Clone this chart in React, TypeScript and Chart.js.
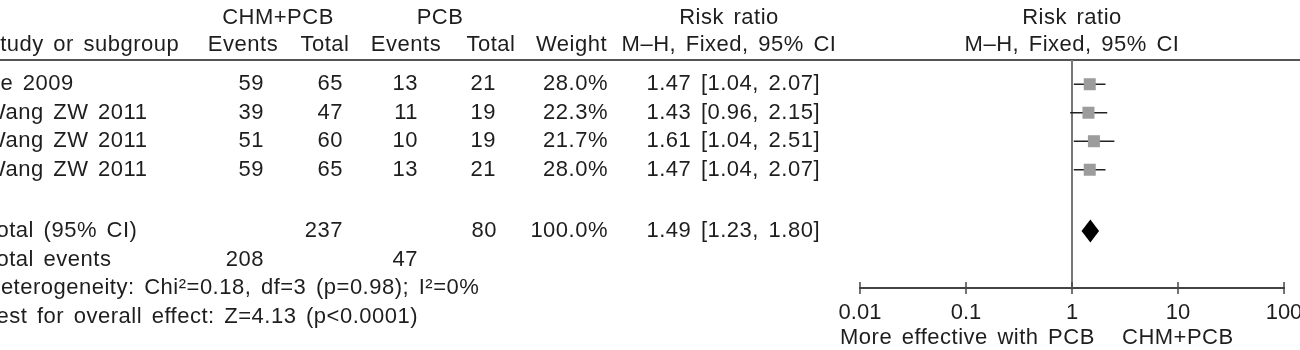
import React, { useEffect, useRef } from "react";
import { Chart, registerables } from "chart.js";

Chart.register(...registerables);

// ---- data ----
const studyLabels = ["e 2009", "Wang ZW 2011", "Wang ZW 2011", "Wang ZW 2011"];
const chmEvents = [59, 39, 51, 59];
const chmTotals = [65, 47, 60, 65];
const pcbEvents = [13, 11, 10, 13];
const pcbTotals = [21, 19, 19, 21];
const weights = [28.0, 22.3, 21.7, 28.0];
const riskRatios = [1.47, 1.43, 1.61, 1.47];
const ciLow = [1.04, 0.96, 1.04, 1.04];
const ciHigh = [2.07, 2.15, 2.51, 2.07];

const totalLabel = "Total (95% CI)";
const totalChm = 237;
const totalPcb = 80;
const totalWeight = 100.0;
const pooledRR = 1.49;
const pooledLow = 1.23;
const pooledHigh = 1.8;
const totalEventsChm = 208;
const totalEventsPcb = 47;
const heterogeneityText = "Heterogeneity: Chi²=0.18, df=3 (p=0.98); I²=0%";
const overallText = "Test for overall effect: Z=4.13 (p<0.0001)";

const tickValues = [0.01, 0.1, 1, 10, 100];
const tickLabels = ["0.01", "0.1", "1", "10", "100"];
const favoursLeft = "More effective with PCB";
const favoursRight = "CHM+PCB";

const FONT_FAMILY = "'Liberation Sans', Arial, sans-serif";
const TEXT = "#1e1e1e";

const rowY = (i: number) => 0.85 + i;
const TOTAL_Y = 6;

const fmt2 = (v: number) => v.toFixed(2);
const rrText = (r: number, l: number, h: number) => `${fmt2(r)} [${fmt2(l)}, ${fmt2(h)}]`;

const forestPlugin = {
  id: "forest",
  beforeDatasetsDraw(chart: any) {
    const { ctx, chartArea } = chart;
    const xs = chart.scales.x;
    ctx.save();
    // header rule
    ctx.strokeStyle = "#555";
    ctx.lineWidth = 2;
    ctx.beginPath();
    ctx.moveTo(0, chartArea.top);
    ctx.lineTo(chart.width, chartArea.top);
    ctx.stroke();
    // line of no effect
    const x1 = xs.getPixelForValue(1);
    ctx.strokeStyle = "#777";
    ctx.beginPath();
    ctx.moveTo(x1, chartArea.top);
    ctx.lineTo(x1, chartArea.bottom);
    ctx.stroke();
    // ticks crossing the axis
    ctx.strokeStyle = "#444";
    ctx.lineWidth = 1.5;
    tickValues.forEach((v) => {
      const px = xs.getPixelForValue(v);
      ctx.beginPath();
      ctx.moveTo(px, chartArea.bottom - 6);
      ctx.lineTo(px, chartArea.bottom + 6);
      ctx.stroke();
    });
    ctx.restore();
  },
  afterDatasetsDraw(chart: any) {
    const { ctx, chartArea } = chart;
    const xs = chart.scales.x;
    const ys = chart.scales.y;
    ctx.save();
    // pooled diamond
    const dy = ys.getPixelForValue(TOTAL_Y);
    const dl = xs.getPixelForValue(pooledLow);
    const dr = xs.getPixelForValue(pooledHigh);
    const dc = xs.getPixelForValue(pooledRR);
    ctx.fillStyle = "#000";
    ctx.beginPath();
    ctx.moveTo(dl, dy);
    ctx.lineTo(dc, dy - 11.5);
    ctx.lineTo(dr, dy);
    ctx.lineTo(dc, dy + 11.5);
    ctx.closePath();
    ctx.fill();

    // table text
    ctx.font = `22px ${FONT_FAMILY}`;
    (ctx as any).letterSpacing = "0.5px";
    (ctx as any).wordSpacing = "3px";
    ctx.fillStyle = TEXT;
    ctx.textBaseline = "middle";
    const t = (s: string, x: number, yv: number, align: CanvasTextAlign) => {
      ctx.textAlign = align;
      ctx.fillText(s, x, ys.getPixelForValue(yv));
    };
    const leftX = -15;
    const xOne = xs.getPixelForValue(1);
    const h1 = -1.47;
    const h2 = -0.52;
    t("CHM+PCB", 278, h1, "center");
    t("PCB", 440, h1, "center");
    t("Risk ratio", 729, h1, "center");
    t("Risk ratio", xOne, h1, "center");
    t("Study or subgroup", leftX, h2, "left");
    t("Events", 243, h2, "center");
    t("Total", 325, h2, "center");
    t("Events", 406, h2, "center");
    t("Total", 491, h2, "center");
    t("Weight", 607, h2, "right");
    t("M–H, Fixed, 95% CI", 729, h2, "center");
    t("M–H, Fixed, 95% CI", xOne, h2, "center");

    studyLabels.forEach((lab, i) => {
      const y = rowY(i);
      t(lab, /^[a-z]/.test(lab) ? 0.5 : leftX, y, "left");
      t(String(chmEvents[i]), 264, y, "right");
      t(String(chmTotals[i]), 343, y, "right");
      t(String(pcbEvents[i]), 418, y, "right");
      t(String(pcbTotals[i]), 496, y, "right");
      t(weights[i].toFixed(1) + "%", 608, y, "right");
      t(rrText(riskRatios[i], ciLow[i], ciHigh[i]), 820, y, "right");
    });

    t(totalLabel, leftX, TOTAL_Y, "left");
    t(String(totalChm), 343, TOTAL_Y, "right");
    t(String(totalPcb), 497, TOTAL_Y, "right");
    t(totalWeight.toFixed(1) + "%", 608, TOTAL_Y, "right");
    t(rrText(pooledRR, pooledLow, pooledHigh), 820, TOTAL_Y, "right");

    t("Total events", leftX, 7, "left");
    t(String(totalEventsChm), 264, 7, "right");
    t(String(totalEventsPcb), 418, 7, "right");
    t(heterogeneityText, leftX - 0.5, 8, "left");
    t(overallText, leftX, 9, "left");

    // favours labels
    ctx.textAlign = "left";
    ctx.fillText(favoursLeft, 840, chartArea.bottom + 50);
    ctx.fillText(favoursRight, 1122, chartArea.bottom + 50);
    ctx.restore();
  },
};

export default function App() {
  const ref = useRef<HTMLCanvasElement | null>(null);
  useEffect(() => {
    if (!ref.current) return;
    Chart.defaults.font.family = FONT_FAMILY;
    const squares = {
      data: riskRatios.map((v, i) => ({ x: v, y: rowY(i) })),
      pointStyle: "rect",
      pointRadius: 8.5,
      pointBackgroundColor: "#9c9c9c",
      pointBorderWidth: 0,
      showLine: false,
    };
    const ciSets = riskRatios.map((_, i) => ({
      data: [
        { x: ciLow[i], y: rowY(i) },
        { x: ciHigh[i], y: rowY(i) },
      ],
      showLine: true,
      borderColor: "#222",
      borderWidth: 1.5,
      pointRadius: 0,
    }));
    const chart = new Chart(ref.current, {
      type: "scatter",
      data: { datasets: [squares as any, ...ciSets] },
      options: {
        animation: false,
        responsive: false,
        events: [],
        layout: { padding: { left: 860, right: 16, top: 60, bottom: 0 } },
        plugins: { legend: { display: false }, tooltip: { enabled: false } },
        scales: {
          x: {
            type: "logarithmic",
            min: 0.01,
            max: 100,
            grid: { display: false, drawTicks: false },
            border: { display: true, color: "#444", width: 2 },
            ticks: {
              color: TEXT,
              padding: 12,
              font: { size: 22, family: FONT_FAMILY },
              maxRotation: 0,
              autoSkip: false,
              callback: (v: any) => {
                const idx = tickValues.indexOf(Number(v));
                return idx >= 0 ? tickLabels[idx] : "";
              },
            },
            afterBuildTicks: (s: any) => {
              s.ticks = tickValues.map((v) => ({ value: v }));
            },
            afterFit: (s: any) => {
              s.height = 62;
              s.paddingLeft = 0;
              s.paddingRight = 0;
            },
          },
          y: { type: "linear", min: 0, max: 8, reverse: true, display: false },
        },
      },
      plugins: [forestPlugin],
    } as any);
    return () => chart.destroy();
  }, []);
  return (
    <div style={{ position: "absolute", left: 0, top: 0, width: 1300, height: 350 }}>
      <canvas ref={ref} width={1300} height={350} />
    </div>
  );
}
